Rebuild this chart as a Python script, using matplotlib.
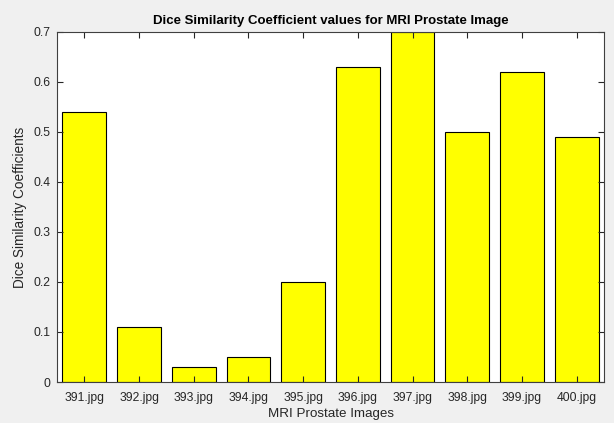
import matplotlib.pyplot as plt

plt.rcParams["font.family"] = ["Liberation Sans", "DejaVu Sans"]

images = ["391.jpg", "392.jpg", "393.jpg", "394.jpg", "395.jpg",
          "396.jpg", "397.jpg", "398.jpg", "399.jpg", "400.jpg"]
dice = [0.54, 0.11, 0.03, 0.05, 0.20, 0.63, 0.70, 0.50, 0.62, 0.49]

fig = plt.figure(figsize=(6.14, 4.23), dpi=100, facecolor="#f0f0f0")
ax = fig.add_axes([57 / 614, 1 - 382 / 423, 547 / 614, 350 / 423])

pos = list(range(1, len(images) + 1))
ax.bar(pos, dice, width=0.8, color="#ffff00", edgecolor="black", linewidth=0.8)

ax.set_xlim(0.5, 10.5)
ax.set_ylim(0, 0.7)
ax.set_xticks(pos)
ax.set_xticklabels(images)
ax.set_yticks([0, 0.1, 0.2, 0.3, 0.4, 0.5, 0.6, 0.7])
ax.set_yticklabels(["0", "0.1", "0.2", "0.3", "0.4", "0.5", "0.6", "0.7"])

ax.tick_params(direction="in", top=True, right=True, length=4, width=0.8,
               colors="#262626", labelsize=8.7)
ax.tick_params(axis="x", pad=7)
ax.tick_params(axis="y", pad=5)
for s in ax.spines.values():
    s.set_color("#404040")
    s.set_linewidth(0.8)

ax.set_title("Dice Similarity Coefficient values for MRI Prostate Image",
             fontsize=9.5, fontweight="bold", color="black", pad=6)
ax.set_xlabel("MRI Prostate Images", fontsize=9.6, color="#262626", labelpad=3)
ax.set_ylabel("Dice Similarity Coefficients", fontsize=9.8, color="#262626", labelpad=4)

fig.savefig("out.png", dpi=100, facecolor=fig.get_facecolor())
